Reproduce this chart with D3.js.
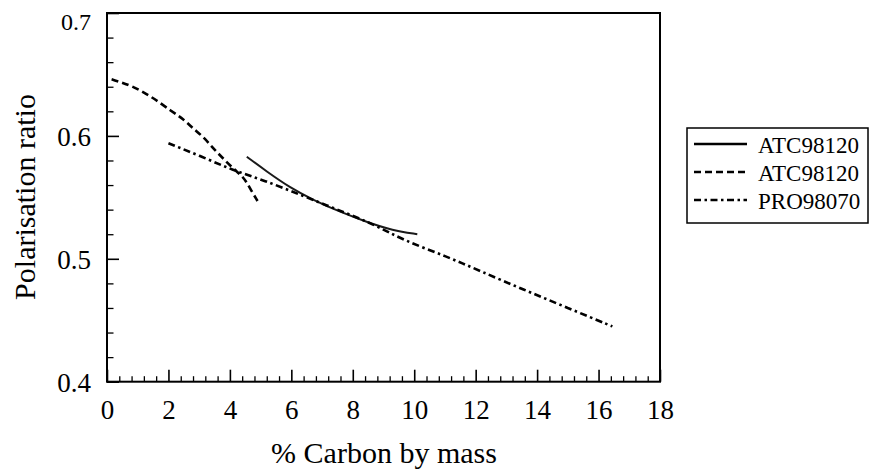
<!DOCTYPE html>
<html>
<head>
<meta charset="utf-8">
<script src="https://cdn.jsdelivr.net/npm/d3@7"></script>
<style>
  body { margin: 0; background: #fff; }
  svg text { font-family: "Liberation Serif", "Tinos", "Times New Roman", "DejaVu Serif", serif !important; }
</style>
</head>
<body>
<div id="chart"></div>
<script>
// series values
const solidX = [4.55, 5.2, 5.95, 6.7, 7.6, 8.45, 9.3, 10.1];
const solidY = [0.583, 0.571, 0.558, 0.548, 0.538, 0.530, 0.523, 0.520];

const dashX = [0.15, 0.8, 1.45, 2.1, 2.5, 2.8, 3.15, 3.45, 3.75, 4.1, 4.45, 4.65, 4.9];
const dashY = [0.646, 0.641, 0.632, 0.620, 0.6135, 0.606, 0.599, 0.590, 0.5825, 0.5735, 0.5665, 0.5575, 0.547];

const dotDashX = [2.0, 3.1, 4.1, 5.1, 6.4, 7.5, 8.7, 9.65, 11.05, 12.15, 13.55, 15.0, 16.45];
const dotDashY = [0.594, 0.583, 0.572, 0.564, 0.551, 0.540, 0.528, 0.515, 0.502, 0.490, 0.475, 0.460, 0.445];

const legendNames = ["ATC98120", "ATC98120", "PRO98070"];
const xTicks = [0, 2, 4, 6, 8, 10, 12, 14, 16, 18];
const yTicks = [0.4, 0.5, 0.6, 0.7];

const W = 870, H = 472;
const x0 = 107, x1 = 660, yTop = 13, yBot = 381.7;
const serif = "'Liberation Serif', Tinos, 'Times New Roman', 'DejaVu Serif', serif";

const svg = d3.select("#chart").append("svg")
    .attr("width", W)
    .attr("height", H);

const x = d3.scaleLinear().domain([0, 18]).range([x0, x1]);
const y = d3.scaleLinear().domain([0.4, 0.7]).range([yBot, yTop]);

// minor ticks
const xMinor = d3.range(0, 46).map(i => +(i * 0.4).toFixed(1)).filter(v => v <= 18 && Math.abs(v / 2 - Math.round(v / 2)) > 1e-6);
const yMinor = d3.range(0, 16).map(i => +(0.4 + i * 0.02).toFixed(2)).filter(v => Math.abs(v * 10 - Math.round(v * 10)) > 1e-6);

svg.append("g")
    .attr("transform", `translate(0,${yBot})`)
    .call(d3.axisBottom(x).tickValues(xMinor).tickSize(-5.5).tickFormat(""))
    .call(g => g.select(".domain").remove())
    .selectAll("line").attr("stroke-width", 1.3);

svg.append("g")
    .attr("transform", `translate(${x0},0)`)
    .call(d3.axisLeft(y).tickValues(yMinor).tickSize(-6.5).tickFormat(""))
    .call(g => g.select(".domain").remove())
    .selectAll("line").attr("stroke-width", 1.3);

// major ticks + labels
const xAxis = svg.append("g")
    .attr("transform", `translate(0,${yBot})`)
    .call(d3.axisBottom(x).tickValues(xTicks).tickSize(-12).tickPadding(0).tickFormat(d3.format("d")))
    .call(g => g.select(".domain").remove());
xAxis.attr("font-family", serif);
xAxis.selectAll("line").attr("stroke-width", 1.6);
xAxis.selectAll("text")
    .attr("y", 37)
    .attr("dy", 0)
    .attr("font-size", 27)
    .style("font-family", serif)
    .attr("fill", "#000");

const yAxis = svg.append("g")
    .attr("transform", `translate(${x0},0)`)
    .call(d3.axisLeft(y).tickValues(yTicks).tickSize(-12).tickFormat(d3.format(".1f")))
    .call(g => g.select(".domain").remove());
yAxis.attr("font-family", serif);
yAxis.selectAll("line").attr("stroke-width", 1.6);
yAxis.selectAll("text")
    .attr("x", -16)
    .attr("dy", d => d === 0.7 ? "0.68em" : "0.36em")
    .attr("font-size", d => d === 0.7 ? 24 : 27)
    .style("font-family", serif)
    .attr("fill", "#000");

// frame
svg.append("rect")
    .attr("x", x0)
    .attr("y", yTop)
    .attr("width", x1 - x0)
    .attr("height", yBot - yTop)
    .attr("fill", "none")
    .attr("stroke", "#000")
    .attr("stroke-width", 2);

// lines
const line = d3.line()
    .x(d => x(d[0]))
    .y(d => y(d[1]))
    .curve(d3.curveBasis);

const series = [
    { pts: d3.zip(solidX, solidY), dash: null, color: "#1a1a1a", w: 2 },
    { pts: d3.zip(dashX, dashY), dash: "7,4", color: "#000", w: 2.6 },
    { pts: d3.zip(dotDashX, dotDashY), dash: "7,3.5,2.5,3.5", color: "#000", w: 2.6 }
];

svg.selectAll(".series")
    .data(series)
    .enter()
    .append("path")
    .attr("class", "series")
    .attr("d", d => line(d.pts))
    .attr("fill", "none")
    .attr("stroke", d => d.color)
    .attr("stroke-width", d => d.w)
    .attr("stroke-dasharray", d => d.dash);

// axis titles
svg.append("text")
    .attr("x", 384)
    .attr("y", 463)
    .attr("text-anchor", "middle")
    .attr("font-size", 30)
    .style("font-family", serif)
    .text("% Carbon by mass");

svg.append("text")
    .attr("transform", "translate(35,197) rotate(-90)")
    .attr("text-anchor", "middle")
    .attr("font-size", 30)
    .style("font-family", serif)
    .text("Polarisation ratio");

// legend
const legend = svg.append("g");
legend.append("rect")
    .attr("x", 687)
    .attr("y", 128)
    .attr("width", 181)
    .attr("height", 95)
    .attr("fill", "#fff")
    .attr("stroke", "#000")
    .attr("stroke-width", 1.5);

const items = legend.selectAll(".legend-item")
    .data(series)
    .enter()
    .append("g")
    .attr("class", "legend-item")
    .attr("transform", (d, i) => `translate(694,${144 + i * 28})`);

items.append("line")
    .attr("x1", 0)
    .attr("x2", 53)
    .attr("stroke", "#000")
    .attr("stroke-width", 2.6)
    .attr("stroke-dasharray", d => d.dash);

items.append("text")
    .attr("x", 64)
    .attr("y", 9)
    .attr("font-size", 23)
    .style("font-family", serif)
    .text((d, i) => legendNames[i]);
</script>
</body>
</html>
